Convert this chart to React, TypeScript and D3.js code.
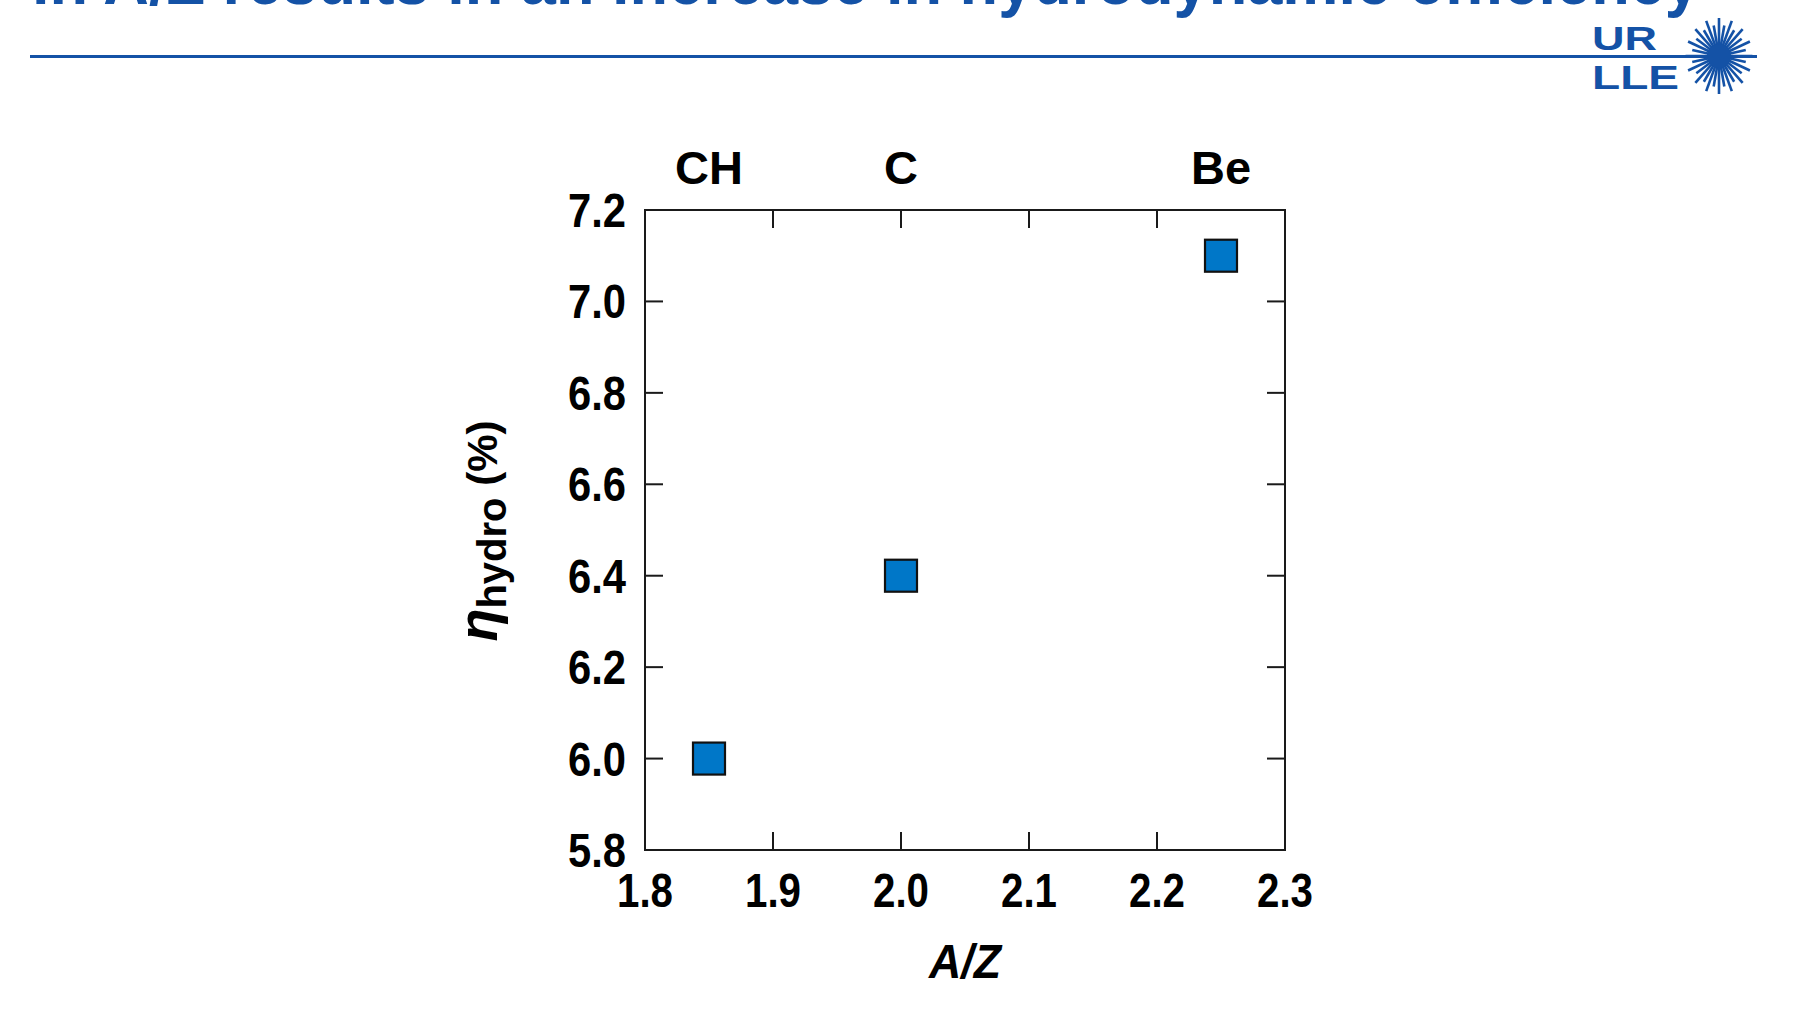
import React from "react";
import * as d3 from "d3";

// A/Z ratio and hydrodynamic efficiency for each ablator material
const materials = ["CH", "C", "Be"];
const azValues = [1.85, 2.0, 2.25];
const etaHydro = [6.0, 6.4, 7.1];

const xTicks = [1.8, 1.9, 2.0, 2.1, 2.2, 2.3];
const yTicks = [5.8, 6.0, 6.2, 6.4, 6.6, 6.8, 7.0, 7.2];

const W = 1808;
const H = 1017;
const BLUE = "#1452a6";
const MARK = "#0077c8";
const SANS = "'Liberation Sans', Arial, Helvetica, sans-serif";

const plot = { left: 645, right: 1285, top: 210, bottom: 850 };

export default function App() {
  const x = d3.scaleLinear().domain([1.8, 2.3]).range([plot.left, plot.right]);
  const y = d3.scaleLinear().domain([5.8, 7.2]).range([plot.bottom, plot.top]);
  const tickLen = 18;
  const sq = 32;

  // starburst rays of the logo
  const rays = d3.range(32).map((i) => ({
    a: (i / 32) * Math.PI * 2,
    r: i % 2 === 0 ? 38 : 31,
  }));
  const cx = 1719;
  const cy = 56;

  return (
    <svg
      width={W}
      height={H}
      viewBox={`0 0 ${W} ${H}`}
      style={{ position: "absolute", left: 0, top: 0, background: "#fff" }}
    >
      <rect x={0} y={0} width={W} height={H} fill="#fff" />

      {/* slide heading, second line */}
      <text
        x={32}
        y={4}
        fill={BLUE}
        fontFamily={SANS}
        fontWeight="bold"
        fontSize={66}
        textLength={1668}
        lengthAdjust="spacingAndGlyphs"
      >
        in A/Z results in an increase in hydrodynamic efficiency
      </text>
      <line x1={30} x2={1757} y1={56.5} y2={56.5} stroke={BLUE} strokeWidth={3} />

      {/* logo */}
      <text x={1592} y={50} fill={BLUE} fontFamily={SANS} fontWeight="900" fontSize={34} textLength={65} lengthAdjust="spacingAndGlyphs">UR</text>
      <text x={1592} y={89} fill={BLUE} fontFamily={SANS} fontWeight="900" fontSize={34} textLength={87} lengthAdjust="spacingAndGlyphs">LLE</text>
      <g stroke={BLUE} strokeWidth={2.6} strokeLinecap="butt">
        {rays.map((d, i) => (
          <line
            key={i}
            x1={cx}
            y1={cy}
            x2={cx + Math.cos(d.a) * d.r * 0.88}
            y2={cy + Math.sin(d.a) * d.r}
          />
        ))}
      </g>
      <circle cx={cx} cy={cy} r={12} fill={BLUE} />

      {/* frame */}
      <rect
        x={plot.left}
        y={plot.top}
        width={plot.right - plot.left}
        height={plot.bottom - plot.top}
        fill="none"
        stroke="#1a1a1a"
        strokeWidth={2}
      />

      {/* ticks on all four sides */}
      <g stroke="#1a1a1a" strokeWidth={2}>
        {xTicks.slice(1, -1).map((t) => (
          <g key={`xt${t}`}>
            <line x1={x(t)} x2={x(t)} y1={plot.bottom} y2={plot.bottom - tickLen} />
            <line x1={x(t)} x2={x(t)} y1={plot.top} y2={plot.top + tickLen} />
          </g>
        ))}
        {yTicks.slice(1, -1).map((t) => (
          <g key={`yt${t}`}>
            <line x1={plot.left} x2={plot.left + tickLen} y1={y(t)} y2={y(t)} />
            <line x1={plot.right} x2={plot.right - tickLen} y1={y(t)} y2={y(t)} />
          </g>
        ))}
      </g>

      {/* tick labels, condensed */}
      <g fontFamily={SANS} fontWeight="bold" fontSize={48} fill="#000">
        {xTicks.map((t) => (
          <text
            key={`xl${t}`}
            x={x(t) - 28}
            y={907}
            textLength={56}
            lengthAdjust="spacingAndGlyphs"
          >
            {t.toFixed(1)}
          </text>
        ))}
        {yTicks.map((t) => (
          <text
            key={`yl${t}`}
            x={626 - 58}
            y={y(t) + 17}
            textLength={58}
            lengthAdjust="spacingAndGlyphs"
          >
            {t.toFixed(1)}
          </text>
        ))}
      </g>

      {/* material names above the frame */}
      <g fontFamily={SANS} fontWeight="bold" fontSize={47} fill="#000">
        {materials.map((m, i) => (
          <text key={m} x={x(azValues[i])} y={184} textAnchor="middle">
            {m}
          </text>
        ))}
      </g>

      {/* data markers */}
      {azValues.map((v, i) => (
        <rect
          key={materials[i]}
          x={x(v) - sq / 2}
          y={y(etaHydro[i]) - sq / 2}
          width={sq}
          height={sq}
          fill={MARK}
          stroke="#111"
          strokeWidth={2.2}
        />
      ))}

      {/* axis titles */}
      <text
        x={(plot.left + plot.right) / 2 - 36}
        y={978}
        fontFamily={SANS}
        fontWeight="bold"
        fontStyle="italic"
        fontSize={48}
        fill="#000"
        textLength={72}
        lengthAdjust="spacingAndGlyphs"
      >
        A/Z
      </text>
      <text
        transform={`translate(497,531) rotate(-90)`}
        textAnchor="middle"
        fontFamily={SANS}
        fontWeight="bold"
        fontSize={42}
        fill="#000"
      >
        <tspan fontStyle="italic" fontSize={54}>η</tspan>
        <tspan fontSize={40} dy={9}>hydro</tspan>
        <tspan dy={-9}> (%)</tspan>
      </text>
    </svg>
  );
}
